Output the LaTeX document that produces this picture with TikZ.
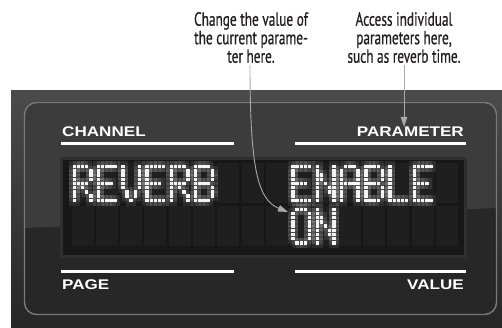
\documentclass[tikz,border=0pt]{standalone}
\usepackage{fontspec}
\usetikzlibrary{arrows.meta}
\newfontfamily\callfont[FakeStretch=0.7,FakeBold=0.6]{PT Sans}
\newfontfamily\lblfont[FakeStretch=1.22]{Liberation Sans}
\definecolor{panelTop}{HTML}{4B4B4B}
\definecolor{panelBot}{HTML}{262626}
\definecolor{bezelLight}{HTML}{3C3C3C}
\definecolor{bezelDark}{HTML}{272727}
\definecolor{bezelEdge}{HTML}{7A7A7A}
\definecolor{lcdRim}{HTML}{2F2F2F}
\definecolor{lcdBg}{HTML}{171717}
\definecolor{lcdCell}{HTML}{1F1F1F}
\definecolor{lcdOn}{HTML}{F4F4F4}
\definecolor{calloutGray}{HTML}{A9A9A9}
\definecolor{textDark}{HTML}{231F20}
\tikzset{
  calltext/.style={font=\callfont\fontsize{19}{18.5}\selectfont, align=center, inner sep=0pt, text=textDark},
  paneltext/.style={font=\lblfont\bfseries\fontsize{14}{16}\selectfont, text=white, inner sep=0pt},
  panelrule/.style={white, line width=3pt},
  callout/.style={draw=calloutGray, line width=0.9pt, -{Triangle[length=10pt,width=6.5pt]}},
}
\def\glR{11110,10001,10001,10001,11110,10100,10010,10001,10001}
\def\glE{11111,10000,10000,10000,11110,10000,10000,10000,11111}
\def\glV{10001,10001,10001,10001,10001,10001,01010,01010,00100}
\def\glB{11110,10001,10001,10001,11110,10001,10001,10001,11110}
\def\glN{10001,10001,11001,11001,10101,10011,10011,10001,10001}
\def\glA{01110,10001,10001,10001,11111,10001,10001,10001,10001}
\def\glL{10000,10000,10000,10000,10000,10000,10000,10000,11111}
\def\glO{01110,10001,10001,10001,10001,10001,10001,10001,01110}
\def\dotrow#1#2#3#4#5{\lcddot{0}{#1}\lcddot{1}{#2}\lcddot{2}{#3}\lcddot{3}{#4}\lcddot{4}{#5}}
\def\lcddot#1#2{\ifnum#2=1\relax
  \fill[white,opacity=0.09] (\gx+#1*4.15-3.5,\gy+\rj*4.2-3.5) rectangle ++(10.5,10.5);
  \fill[lcdOn] (\gx+#1*4.15,\gy+\rj*4.2) rectangle ++(3.4,3.4);
\fi}
\newcommand\lcdglyph[3]{%
  \pgfmathsetmacro\gx{72.5+#1*24.3}%
  \pgfmathsetmacro\gy{165+#2*42.6}%
  \foreach \rowbits [count=\rj from 0] in #3 {\expandafter\dotrow\rowbits}%
}
\begin{document}
\begin{tikzpicture}[x=1pt,y=-1pt]
\useasboundingbox (0,0) rectangle (502,328);
\fill[white] (0,0) rectangle (502,328);
% outer panel
\shade[top color=panelTop, bottom color=panelBot] (11,91) rectangle (502,328);
% bezel
\fill[bezelDark, rounded corners=12pt] (24,102) rectangle (497,315);
\begin{scope}
  \clip[rounded corners=12pt] (24,102) rectangle (497,315);
  \fill[bezelLight] (24,102) -- (497,102) -- (497,208) -- (24,228) -- cycle;
\end{scope}
\draw[bezelEdge, line width=1.4pt, rounded corners=12pt] (24.5,102.5) rectangle (496.5,314.5);
% LCD
\fill[lcdRim] (60,157) rectangle (467,258);
\fill[lcdBg] (63,160) rectangle (464,255);
\foreach \c in {0,...,15} \foreach \r in {0,1}
  \fill[lcdCell] ({71.5+\c*24.3},{163+\r*42.6}) rectangle ++(22,40);
% REVERB
\lcdglyph{0}{0}{\glR}\lcdglyph{1}{0}{\glE}\lcdglyph{2}{0}{\glV}
\lcdglyph{3}{0}{\glE}\lcdglyph{4}{0}{\glR}\lcdglyph{5}{0}{\glB}
% ENABLE
\lcdglyph{9}{0}{\glE}\lcdglyph{10}{0}{\glN}\lcdglyph{11}{0}{\glA}
\lcdglyph{12}{0}{\glB}\lcdglyph{13}{0}{\glL}\lcdglyph{14}{0}{\glE}
% ON
\lcdglyph{9}{1}{\glO}\lcdglyph{10}{1}{\glN}
% labels and rules
\node[paneltext, anchor=base west] (chan) at (62,137) {CHANNEL};
\node[paneltext, anchor=base east] (param) at (464,137) {PARAMETER};
\node[paneltext, anchor=base west] (page) at (62,289) {PAGE};
\node[paneltext, anchor=base east] (val) at (464,289) {VALUE};
\draw[panelrule] (61,144) -- (234,144);
\draw[panelrule] (295,144) -- (466,144);
\draw[panelrule] (61,271) -- (234,271);
\draw[panelrule] (295,271) -- (466,271);
% callouts
\node[calltext, anchor=north] (chg) at (251,12) {Change the value of\\the current parame-\\ter here.};
\node[calltext, anchor=north] (acc) at (404,12) {Access individual\\parameters here,\\such as reverb time.};
\coordinate (pTip) at (404,127);
\coordinate (onTip) at (288,212);
\draw[callout] ([xshift=-1pt,yshift=-2pt]chg.south) .. controls (250,170) and (258,200) .. (onTip);
\draw[callout] ([yshift=-2pt]acc.south) -- (pTip);
\end{tikzpicture}
\end{document}
